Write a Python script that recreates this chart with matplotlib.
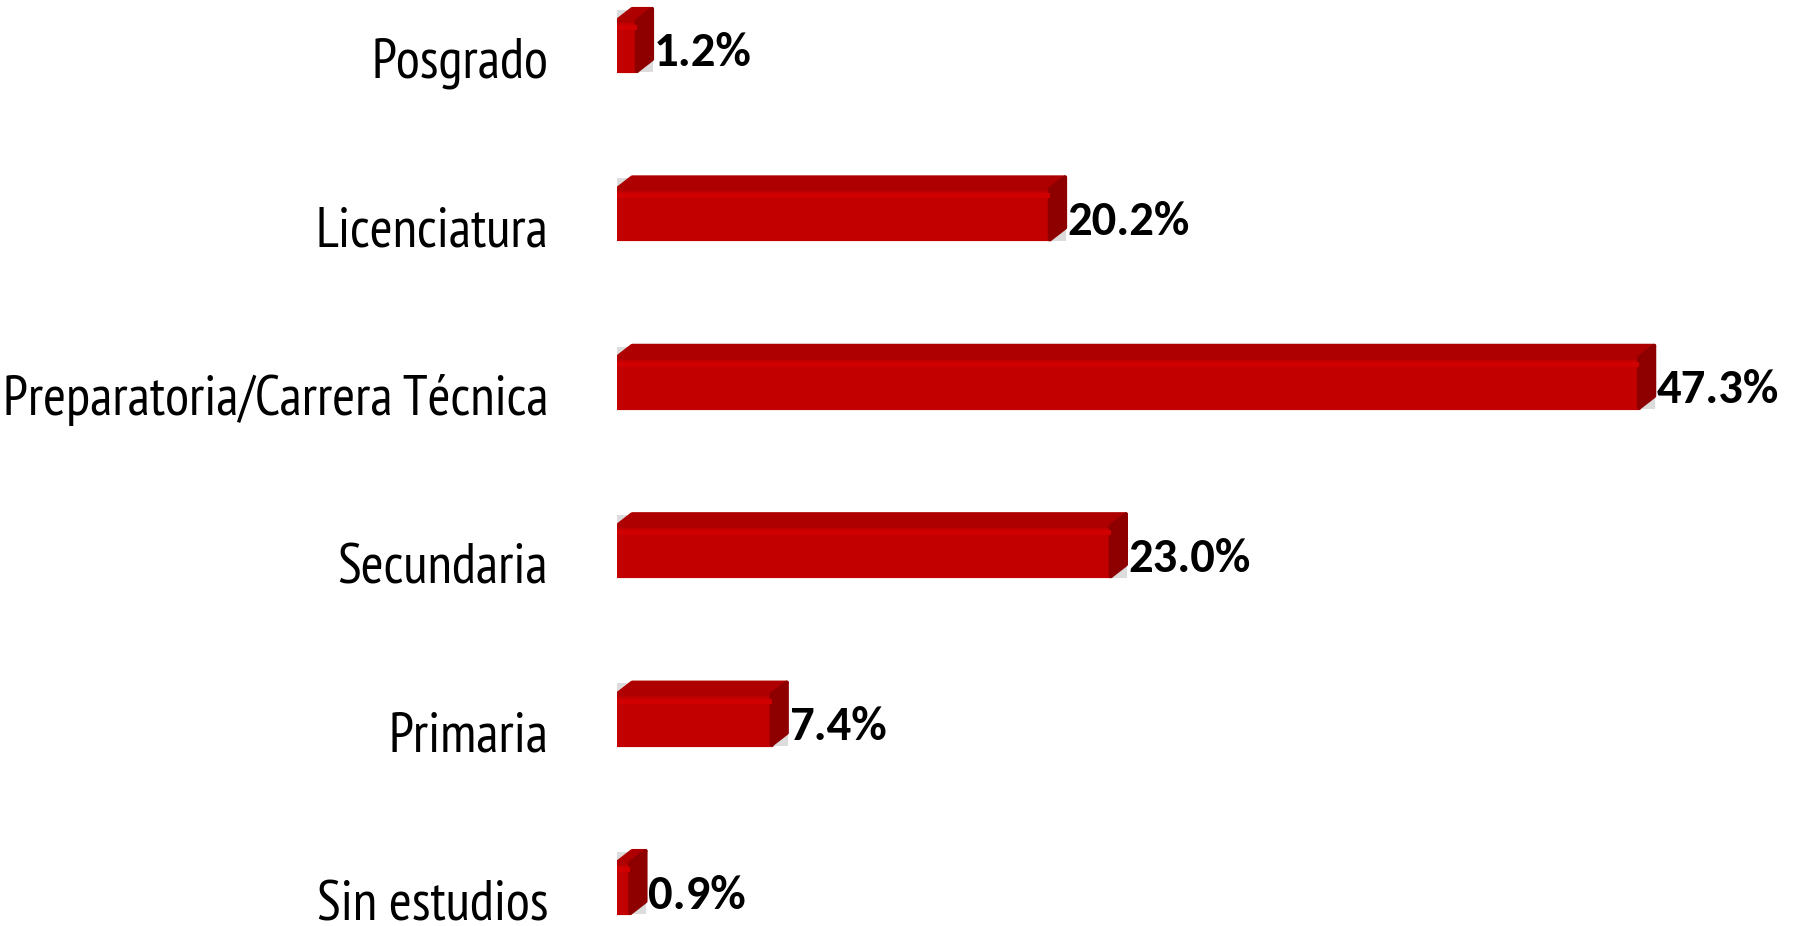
import matplotlib
matplotlib.use("Agg")
from matplotlib import pyplot as plt
from matplotlib.patches import Polygon
from matplotlib import font_manager
import numpy as np

categories = ["Sin estudios", "Primaria", "Secundaria",
              "Preparatoria/Carrera Técnica", "Licenciatura", "Posgrado"]
values = [0.9, 7.4, 23.0, 47.3, 20.2, 1.2]
value_labels = ["0.9%", "7.4%", "23.0%", "47.3%", "20.2%", "1.2%"]

names = {f.name for f in font_manager.fontManager.ttflist}
label_font = next((n for n in ["Arial Narrow", "Liberation Sans Narrow", "PT Sans Narrow"]
                   if n in names), "DejaVu Sans")
if "Carlito" in names:
    value_font, value_size = "Carlito", 35
else:
    value_font, value_size = "Lato", 33

x0 = -0.41    # bars start a little left of zero (3d base)
fig = plt.figure(figsize=(18.02, 9.26), dpi=100)
ax = fig.add_axes([617 / 1802, 0, 1 - 617 / 1802, 1])
ax.set_xlim(x0, 54.1)
ax.set_ylim(-0.261, 5.2375)
ax.axis("off")

y = np.arange(len(categories))
h = 0.368     # full bar height incl. top face
dx = 0.7      # depth of the side face (data units)
dy = 0.07     # depth of the top face (data units)

front_col = "#c20000"
top_col = "#ae0000"
side_col = "#8e0000"

for yi, v in zip(y, values):
    bottom = yi - h / 2
    top = yi + h / 2 - dy
    # faint outline / shadow
    ax.barh(bottom - 0.008, v - x0 + 0.04, height=h + 0.004, left=x0, align="edge",
            color="#dcdcdc", linewidth=0, zorder=1)
    # front face
    ax.barh(bottom, v - dx - x0, height=h - dy, left=x0, align="edge", color=front_col,
            edgecolor=front_col, linewidth=3, joinstyle="round", zorder=2)
    # lighter band along the top of the front face
    ax.barh(top - 0.055, v - dx - x0, height=0.03, left=x0, align="edge", color="#d00000",
            linewidth=0, zorder=3)
    # top face
    ax.add_patch(Polygon([(x0, top), (x0 + dx, top + dy), (v, top + dy), (v - dx, top)],
                         closed=True, facecolor=top_col, edgecolor=top_col,
                         linewidth=3, joinstyle="round", zorder=2))
    # right face
    ax.add_patch(Polygon([(v - dx, bottom), (v, bottom + dy), (v, top + dy), (v - dx, top)],
                         closed=True, facecolor=side_col, edgecolor=side_col,
                         linewidth=3, joinstyle="round", zorder=2))

for yi, v, lab in zip(y, values, value_labels):
    ax.text(v + 0.1, yi - 0.08, lab, ha="left", va="center",
            fontsize=value_size, fontweight="bold", family=value_font, color="black", zorder=4)

ytrans = ax.get_yaxis_transform()
for yi, cat in zip(y, categories):
    ax.text(-0.058, yi - 0.14, cat, transform=ytrans, ha="right", va="center",
            fontsize=40, family=label_font, color="black")

fig.savefig("out.png", dpi=100)
